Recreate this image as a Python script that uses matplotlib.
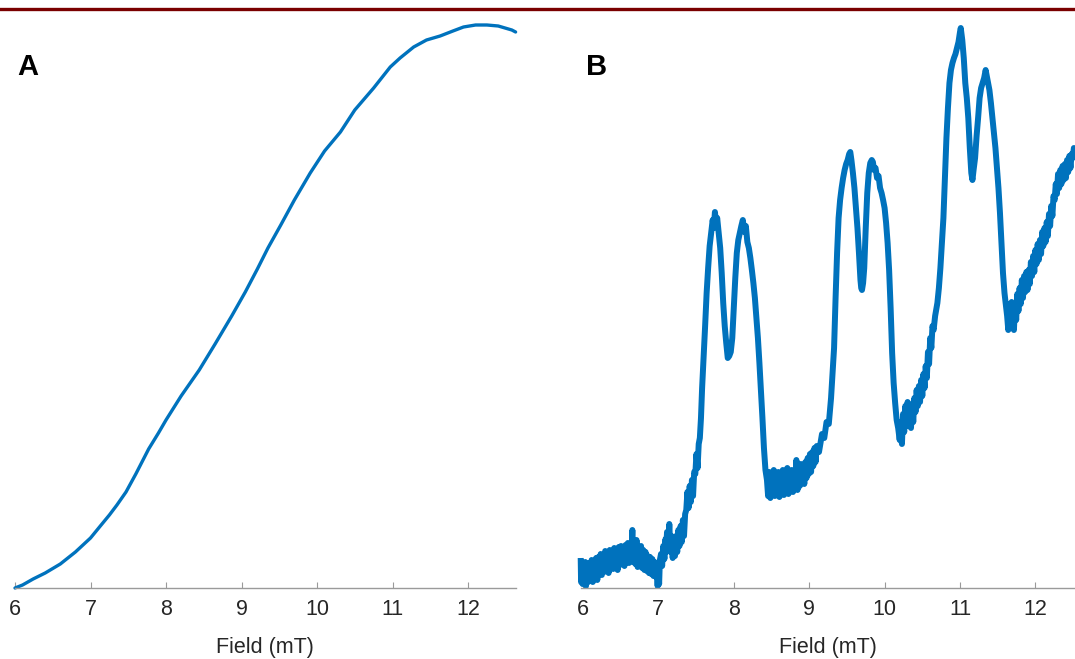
import matplotlib
matplotlib.use("Agg")
import matplotlib.pyplot as plt
from matplotlib.lines import Line2D

plt.rcParams['font.family'] = ['Liberation Sans', 'DejaVu Sans']

# ---- Panel A: smooth curve (field in mT, signal in a.u.) ----
field_a = [6.0, 6.1, 6.24, 6.4, 6.6, 6.8, 7.0, 7.13, 7.25, 7.35, 7.47, 7.6, 7.77,
           7.9, 8.0, 8.2, 8.44, 8.65, 8.87, 9.05, 9.21, 9.35, 9.52, 9.7, 9.91,
           10.1, 10.31, 10.5, 10.75, 10.97, 11.1, 11.28, 11.45, 11.63, 11.8,
           11.94, 12.1, 12.25, 12.4, 12.58, 12.63]
signal_a = [0, 3, 9, 15, 24, 36, 50, 62, 73, 83, 96, 114, 139,
            155, 168, 192, 218, 244, 272, 296, 319, 340, 363, 388, 415,
            437, 456, 478, 500, 521, 530, 541, 548, 552, 557,
            561, 563, 563, 562, 558, 556]

# ---- Panel B: noisy spectrum ----
field_b = [
    5.970, 5.975, 5.985, 5.995, 6.005, 6.015, 6.030, 6.040, 6.055, 6.070,
    6.085, 6.100, 6.115, 6.130, 6.145, 6.160, 6.175, 6.190, 6.205, 6.220,
    6.235, 6.250, 6.265, 6.280, 6.295, 6.310, 6.325, 6.340, 6.355, 6.370,
    6.385, 6.400, 6.415, 6.430, 6.445, 6.460, 6.475, 6.490, 6.505, 6.520,
    6.535, 6.550, 6.565, 6.580, 6.595, 6.610, 6.625, 6.640, 6.655, 6.665,
    6.680, 6.695, 6.710, 6.725, 6.740, 6.755, 6.770, 6.785, 6.800, 6.815,
    6.830, 6.845, 6.860, 6.875, 6.890, 6.905, 6.920, 6.935, 6.950, 6.965,
    6.980, 6.990, 7.000, 7.010, 7.020, 7.035, 7.050, 7.065, 7.080, 7.095,
    7.100, 7.115, 7.130, 7.145, 7.160, 7.175, 7.190, 7.205, 7.220, 7.235,
    7.250, 7.265, 7.280, 7.295, 7.310, 7.325, 7.340, 7.355, 7.370, 7.385,
    7.400, 7.415, 7.430, 7.445, 7.460, 7.475, 7.490, 7.505, 7.520, 7.535,
    7.550, 7.565, 7.580, 7.600, 7.620, 7.640, 7.660, 7.680, 7.700, 7.720,
    7.735, 7.750, 7.765, 7.780, 7.800, 7.820, 7.840, 7.860, 7.880, 7.900,
    7.920, 7.940, 7.960, 7.980, 8.000, 8.020, 8.040, 8.060, 8.080, 8.100,
    8.120, 8.140, 8.160, 8.180, 8.200, 8.220, 8.240, 8.260, 8.280, 8.300,
    8.320, 8.340, 8.360, 8.380, 8.400, 8.420, 8.440, 8.455, 8.470, 8.485,
    8.500, 8.515, 8.530, 8.545, 8.560, 8.575, 8.590, 8.605, 8.620, 8.635,
    8.650, 8.665, 8.680, 8.695, 8.710, 8.725, 8.740, 8.755, 8.770, 8.785,
    8.800, 8.815, 8.830, 8.845, 8.860, 8.875, 8.890, 8.905, 8.920, 8.935,
    8.950, 8.965, 8.980, 8.995, 9.010, 9.025, 9.040, 9.055, 9.070, 9.085,
    9.100, 9.130, 9.170, 9.200, 9.230, 9.260, 9.290, 9.310, 9.330, 9.350,
    9.370, 9.390, 9.410, 9.430, 9.450, 9.470, 9.490, 9.510, 9.530, 9.545,
    9.560, 9.580, 9.600, 9.620, 9.640, 9.660, 9.680, 9.690, 9.700, 9.715,
    9.730, 9.750, 9.770, 9.790, 9.810, 9.830, 9.845, 9.860, 9.880, 9.900,
    9.920, 9.940, 9.960, 9.980, 10.000, 10.020, 10.040, 10.060, 10.080, 10.100,
    10.120, 10.140, 10.160, 10.180, 10.200, 10.215, 10.230, 10.245, 10.260, 10.275,
    10.290, 10.305, 10.320, 10.335, 10.350, 10.365, 10.380, 10.395, 10.410, 10.425,
    10.440, 10.455, 10.470, 10.485, 10.500, 10.515, 10.530, 10.545, 10.560, 10.575,
    10.590, 10.605, 10.620, 10.635, 10.650, 10.670, 10.700, 10.720, 10.740, 10.760,
    10.780, 10.800, 10.820, 10.840, 10.860, 10.880, 10.900, 10.920, 10.940, 10.960,
    10.980, 11.000, 11.010, 11.030, 11.050, 11.070, 11.090, 11.110, 11.130, 11.150,
    11.165, 11.180, 11.200, 11.220, 11.240, 11.260, 11.280, 11.300, 11.320, 11.340,
    11.355, 11.370, 11.390, 11.410, 11.430, 11.450, 11.470, 11.490, 11.510, 11.530,
    11.550, 11.570, 11.590, 11.610, 11.625, 11.640, 11.655, 11.670, 11.685, 11.700,
    11.715, 11.730, 11.745, 11.760, 11.775, 11.790, 11.805, 11.820, 11.835, 11.850,
    11.865, 11.880, 11.895, 11.910, 11.925, 11.940, 11.955, 11.970, 11.985, 12.000,
    12.015, 12.030, 12.045, 12.060, 12.075, 12.090, 12.105, 12.120, 12.135, 12.150,
    12.165, 12.180, 12.195, 12.210, 12.225, 12.240, 12.255, 12.270, 12.285, 12.300,
    12.315, 12.330, 12.345, 12.360, 12.375, 12.390, 12.405, 12.420, 12.435, 12.450,
    12.465, 12.480, 12.495, 12.510, 12.530]
signal_b = [
    30, 6, 22, 4, 24, 8, 26, 2, 22, 6,
    25, 10, 28, 6, 26, 12, 30, 8, 31, 14,
    34, 13, 32, 16, 37, 18, 34, 15, 38, 20,
    35, 19, 40, 22, 38, 18, 41, 23, 42, 26,
    40, 22, 43, 27, 45, 25, 42, 29, 58, 26,
    44, 24, 48, 21, 40, 23, 42, 20, 38, 18,
    36, 17, 32, 15, 31, 14, 29, 12, 26, 11,
    16, 2, 18, 4, 28, 34, 22, 42, 29, 49,
    36, 56, 40, 64, 36, 52, 30, 48, 32, 52,
    36, 58, 42, 62, 46, 68, 52, 74, 78, 96,
    80, 102, 86, 108, 92, 116, 114, 134, 120, 144,
    150, 170, 200, 230, 262, 295, 320, 342, 355, 368,
    360, 376, 364, 370, 355, 340, 315, 285, 262, 245,
    230, 232, 236, 250, 280, 310, 335, 348, 355, 362,
    368, 356, 362, 346, 340, 330, 318, 305, 290, 270,
    250, 225, 198, 170, 140, 118, 108, 92, 116, 90,
    110, 94, 118, 92, 112, 94, 116, 91, 110, 96,
    118, 93, 114, 97, 120, 94, 112, 98, 118, 96,
    116, 99, 128, 98, 121, 102, 124, 106, 122, 104,
    126, 110, 130, 114, 134, 116, 136, 122, 140, 126,
    142, 136, 154, 150, 166, 164, 190, 215, 240, 290,
    335, 370, 388, 400, 410, 418, 424, 428, 434, 436,
    428, 415, 400, 380, 360, 335, 308, 300, 298, 305,
    320, 360, 395, 415, 425, 428, 426, 418, 420, 410,
    412, 400, 395, 388, 380, 365, 345, 318, 280, 235,
    205, 185, 168, 160, 148, 166, 144, 174, 156, 182,
    162, 186, 164, 180, 160, 184, 166, 190, 176, 198,
    182, 202, 186, 208, 192, 214, 200, 222, 210, 236,
    224, 250, 240, 262, 258, 272, 285, 300, 320, 345,
    370, 410, 450, 480, 505, 518, 525, 530, 534, 540,
    546, 556, 560, 548, 530, 505, 490, 470, 440, 415,
    408, 418, 430, 452, 470, 490, 500, 505, 510, 518,
    512, 506, 498, 485, 470, 455, 440, 420, 400, 375,
    345, 315, 295, 282, 272, 258, 284, 262, 286, 266,
    258, 284, 268, 294, 277, 300, 284, 308, 290, 312,
    296, 316, 298, 318, 304, 326, 312, 332, 316, 338,
    324, 344, 328, 348, 334, 356, 342, 360, 346, 366,
    352, 374, 362, 382, 372, 392, 388, 404, 394, 414,
    400, 418, 404, 422, 408, 424, 410, 428, 416, 432,
    420, 434, 430, 440, 434]

tick_vals = [6, 7, 8, 9, 10, 11, 12]
xlabel_text = "Field (mT)"
panel_labels = ["A", "B"]

LINE_COLOR = "#0072BD"
SPINE_COLOR = "#9a9a9a"
TEXT_COLOR = "#262626"

W, H = 1075, 659
fig = plt.figure(figsize=(W / 100, H / 100), dpi=100)

def px_axes(left, right, top, bottom):
    return fig.add_axes([left / W, (H - bottom) / H, (right - left) / W, (bottom - top) / H])

axA = px_axes(15, 515.6, 23, 588)
axB = px_axes(580.7, 1075, 23, 588)

axA.plot(field_a, signal_a, color=LINE_COLOR, lw=2.4, clip_on=False,
         solid_joinstyle='round', solid_capstyle='round')
axA.set_xlim(6, 12.63)
axB.plot(field_b, signal_b, color=LINE_COLOR, lw=4.3, clip_on=False,
         solid_joinstyle='round', solid_capstyle='butt')
axB.set_xlim(5.97, 12.525)

for ax in [axA, axB]:
    ax.set_ylim(0, 565)
    ax.patch.set_alpha(0)
    for s in ['top', 'right', 'left']:
        ax.spines[s].set_visible(False)
    ax.spines['bottom'].set_color(SPINE_COLOR)
    ax.spines['bottom'].set_linewidth(1.0)
    ax.set_yticks([])
    ax.set_xticks(tick_vals)
    ax.set_xticklabels([str(t) for t in tick_vals])
    ax.tick_params(axis='x', direction='in', length=4, width=0.8, color=SPINE_COLOR,
                   labelsize=15.5, labelcolor=TEXT_COLOR, pad=8)
    ax.set_xlabel(xlabel_text, fontsize=15.5, color=TEXT_COLOR, labelpad=12)

fig.text(17 / W, 1 - 67 / H, panel_labels[0], fontsize=21, fontweight='bold',
         color='black', va='center', ha='left')
fig.text(586 / W, 1 - 67 / H, panel_labels[1], fontsize=21, fontweight='bold',
         color='black', va='center', ha='left')

# dark red rule along the top
fig.add_artist(Line2D([0, 1], [1 - 9 / H, 1 - 9 / H], transform=fig.transFigure,
                      color="#7a0000", lw=2.4))

fig.savefig("out.png", dpi=100, facecolor="white")
